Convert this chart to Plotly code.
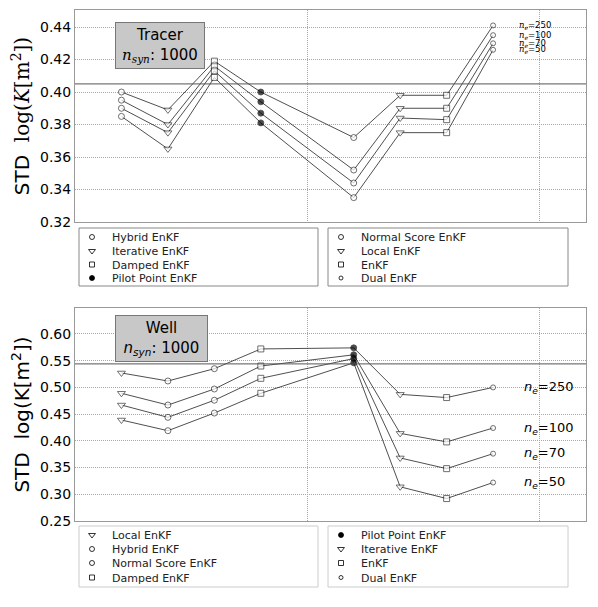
######################################################################################
####                     STD of log-permeability: Tracer vs Well                  ####
######################################################################################

# Loading required libraries----------------------------------------------------------
from plotly import graph_objects as go

# Data--------------------------------------------------------------------------------
positions = [1, 2, 3, 4, 6, 7, 8, 9]
ensemble_sizes = [250, 100, 70, 50]

# Tracer panel (method order along x)
tracer_methods = ['Hybrid EnKF', 'Iterative EnKF', 'Damped EnKF', 'Pilot Point EnKF',
                  'Normal Score EnKF', 'Local EnKF', 'EnKF', 'Dual EnKF']
tracer_ne250 = [0.400, 0.389, 0.419, 0.400, 0.372, 0.398, 0.398, 0.441]
tracer_ne100 = [0.395, 0.380, 0.416, 0.394, 0.352, 0.390, 0.390, 0.435]
tracer_ne70 = [0.390, 0.375, 0.413, 0.387, 0.344, 0.384, 0.383, 0.430]
tracer_ne50 = [0.385, 0.365, 0.409, 0.381, 0.335, 0.375, 0.375, 0.426]
tracer_reference = 0.405

# Well panel (method order along x)
well_methods = ['Local EnKF', 'Hybrid EnKF', 'Normal Score EnKF', 'Damped EnKF',
                'Pilot Point EnKF', 'Iterative EnKF', 'EnKF', 'Dual EnKF']
well_ne250 = [0.527, 0.512, 0.535, 0.572, 0.574, 0.487, 0.481, 0.500]
well_ne100 = [0.489, 0.467, 0.497, 0.540, 0.561, 0.414, 0.398, 0.424]
well_ne70 = [0.467, 0.444, 0.476, 0.517, 0.554, 0.368, 0.348, 0.376]
well_ne50 = [0.439, 0.419, 0.452, 0.489, 0.546, 0.314, 0.292, 0.322]
well_reference = 0.544

# Legend columns (left box, right box)
tracer_legend = [['Hybrid EnKF', 'Iterative EnKF', 'Damped EnKF', 'Pilot Point EnKF'],
                 ['Normal Score EnKF', 'Local EnKF', 'EnKF', 'Dual EnKF']]
well_legend = [['Local EnKF', 'Hybrid EnKF', 'Normal Score EnKF', 'Damped EnKF'],
               ['Pilot Point EnKF', 'Iterative EnKF', 'EnKF', 'Dual EnKF']]

# Marker styles per method-------------------------------------------------------------
marker_style = {
    'Hybrid EnKF': dict(symbol='circle', size=6, color='white'),
    'Normal Score EnKF': dict(symbol='circle', size=6, color='white'),
    'Iterative EnKF': dict(symbol='triangle-down', size=7, color='white'),
    'Local EnKF': dict(symbol='triangle-down', size=7, color='white'),
    'Damped EnKF': dict(symbol='square', size=6, color='white'),
    'EnKF': dict(symbol='square', size=6, color='white'),
    'Pilot Point EnKF': dict(symbol='circle', size=6, color='black'),
    'Dual EnKF': dict(symbol='circle', size=5, color='white'),
}

# Page geometry (pixels, page coords; the page body adds an 8px offset)-----------------
OFF = 8
W, H = 598 - OFF, 607 - OFF
ML, MR, MT, MB = 75 - OFF, 12, 10 - OFF, 86
PW, PH = W - ML - MR, H - MT - MB


def px_x(x):
    return (x - OFF - ML) / PW


def px_y(y):
    return (H - MB - (y - OFF)) / PH


FONT = 'DejaVu Sans'
SERIF = 'DejaVu Serif'

fig = go.Figure()

# Series lines-------------------------------------------------------------------------
panels = [
    ('x', 'y', tracer_methods, [tracer_ne250, tracer_ne100, tracer_ne70, tracer_ne50]),
    ('x2', 'y2', well_methods, [well_ne250, well_ne100, well_ne70, well_ne50]),
]
for xa, ya, methods, series in panels:
    for vals in series:
        fig.add_trace(go.Scatter(
            x=positions, y=vals, xaxis=xa, yaxis=ya, mode='lines+markers',
            line=dict(color='#222222', width=0.8),
            marker=dict(symbol=[marker_style[m]['symbol'] for m in methods],
                        size=[marker_style[m]['size'] for m in methods],
                        color=[marker_style[m]['color'] for m in methods],
                        line=dict(color='black', width=0.8)),
            showlegend=False, hoverinfo='skip'))

# Reference lines
fig.add_shape(type='line', xref='x domain', yref='y', x0=0, x1=1,
              y0=tracer_reference, y1=tracer_reference, line=dict(color='#555555', width=1))
fig.add_shape(type='line', xref='x2 domain', yref='y2', x0=0, x1=1,
              y0=well_reference, y1=well_reference, line=dict(color='#555555', width=1))

# Ensemble size labels
for ne, v in zip(ensemble_sizes, [s[-1] for s in panels[0][3]]):
    fig.add_annotation(x=9.52, y=v, xref='x', yref='y', xanchor='left', yanchor='middle',
                       showarrow=False,
                       text=f"<span style='font-family:{SERIF}'><i>n<sub>e</sub></i></span>={ne}",
                       font=dict(family=FONT, size=8.5, color='black'))
for ne, v in zip(ensemble_sizes, [s[-1] for s in panels[1][3]]):
    fig.add_annotation(x=9.62, y=v, xref='x2', yref='y2', xanchor='left', yanchor='middle',
                       showarrow=False, text=f"<i>n<sub>e</sub></i>={ne}",
                       font=dict(family=FONT, size=13, color='black'))

# Panel label boxes
fig.add_annotation(x=px_x(160), y=px_y(45.5), xref='paper', yref='paper', showarrow=False,
                   xanchor='center', yanchor='middle',
                   text=f"Tracer<br><span style='font-family:{SERIF}'><i>n<sub>syn</sub></i></span>: 1000",
                   font=dict(family=FONT, size=15, color='black'), align='center',
                   width=86, height=43, bgcolor='#c8c8c8', bordercolor='#777777', borderwidth=1)
fig.add_annotation(x=px_x(161.5), y=px_y(338.5), xref='paper', yref='paper', showarrow=False,
                   xanchor='center', yanchor='middle',
                   text="Well<br><i>n<sub>syn</sub></i>: 1000",
                   font=dict(family=FONT, size=15, color='black'), align='center',
                   width=89, height=43, bgcolor='#c8c8c8', bordercolor='#777777', borderwidth=1)

# Legends: one frame per column, one legend per row-------------------------------------
legend_layout = {}
frames = [
    (tracer_legend, [237, 251, 264.5, 278], 228, 286, '#888888'),
    (well_legend, [535, 549, 563, 577.5], 526, 587, '#cccccc'),
]
box_x = [(79, 318), (328, 568)]
k = 0
for columns, rows, top, bottom, edge in frames:
    for (x0, x1), names in zip(box_x, columns):
        fig.add_shape(type='rect', xref='paper', yref='paper',
                      x0=px_x(x0), x1=px_x(x1), y0=px_y(top), y1=px_y(bottom),
                      line=dict(color=edge, width=1), fillcolor='rgba(0,0,0,0)')
        for name, row in zip(names, rows):
            k += 1
            lname = 'legend' if k == 1 else f'legend{k}'
            st = marker_style[name]
            fig.add_trace(go.Scatter(
                x=[None], y=[None], mode='markers', name=name, legend=lname,
                marker=dict(symbol=st['symbol'], size=st['size'] - 1, color=st['color'],
                            line=dict(color='black', width=0.8))))
            legend_layout[lname] = dict(
                x=px_x(x0 - 7), y=px_y(row), xanchor='left', yanchor='middle',
                bgcolor='rgba(0,0,0,0)', borderwidth=0, itemwidth=30,
                font=dict(family=FONT, size=11, color='#222222'))

# Axes---------------------------------------------------------------------------------
axis_common = dict(showline=True, linecolor='#999999', linewidth=1, mirror=True,
                   showgrid=True, gridcolor='#a8a8a8', griddash='1px,1px', gridwidth=1,
                   zeroline=False, ticks='')
xaxis_common = dict(axis_common, range=[0, 11], tickvals=[0, 5, 10], showticklabels=False)
title_top = (f"STD  <span style='font-family:{SERIF}'>log(<i>K</i>[m<sup>2</sup>])</span>")
title_bottom = "STD  log(K[m<sup>2</sup>])"

fig.update_layout(
    width=W, height=H,
    margin=dict(l=ML, r=MR, t=MT, b=MB),
    paper_bgcolor='white', plot_bgcolor='white',
    font=dict(family=FONT, color='black'),
    xaxis=dict(xaxis_common, domain=[0, 1], anchor='y'),
    yaxis=dict(axis_common, domain=[px_y(222), 1], anchor='x', range=[0.32, 0.4505],
               dtick=0.02, tick0=0.32, tickformat='.2f', tickfont=dict(size=14),
               title=dict(text=title_top, font=dict(size=20), standoff=9)),
    xaxis2=dict(xaxis_common, domain=[0, 1], anchor='y2'),
    yaxis2=dict(axis_common, domain=[0, px_y(308)], anchor='x2', range=[0.25, 0.6486],
                dtick=0.05, tick0=0.25, tickformat='.2f', tickfont=dict(size=14),
                title=dict(text=title_bottom, font=dict(size=20), standoff=9)),
    **legend_layout,
)

fig.write_html("out.html")
